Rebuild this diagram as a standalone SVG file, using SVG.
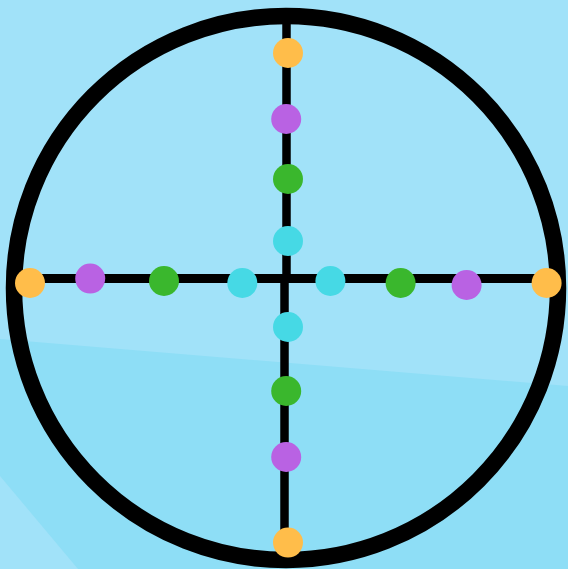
<svg xmlns="http://www.w3.org/2000/svg" width="568" height="569" viewBox="0 0 568 569">
<style>
.bg{fill:#A1E2F9}
.bg2{fill:#8EDEF6}
.ln{stroke:#000;fill:none}
.o{fill:#FFBD4A}
.p{fill:#B962E3}
.g{fill:#3AB72D}
.c{fill:#46D9E5}
</style>
<rect class="bg" x="0" y="0" width="568" height="569"/>
<polygon class="bg2" points="0,339 568,386 568,569 0,569"/>
<polygon class="bg" points="0,476 78,569 0,569"/>
<g id="connectors">
<ellipse id="ring" class="ln" cx="286" cy="288" rx="272" ry="272" stroke-width="16.5"/>
<line class="ln" x1="286.5" y1="22" x2="286.5" y2="283" stroke-width="8.5"/>
<line class="ln" x1="284.5" y1="275" x2="284.5" y2="554" stroke-width="8.5"/>
<line class="ln" x1="14" y1="278.5" x2="558" y2="278.5" stroke-width="9"/>
</g>
<g id="n-top-orange"><circle class="o" cx="288" cy="53" r="15"/></g>
<g id="n-top-purple"><circle class="p" cx="286.2" cy="119" r="15"/></g>
<g id="n-top-green"><circle class="g" cx="288" cy="179" r="15"/></g>
<g id="n-top-cyan"><circle class="c" cx="288" cy="241" r="15"/></g>
<g id="n-left-orange"><circle class="o" cx="30" cy="283" r="15"/></g>
<g id="n-left-purple"><circle class="p" cx="90.2" cy="278.6" r="15"/></g>
<g id="n-left-green"><circle class="g" cx="164" cy="281" r="15"/></g>
<g id="n-left-cyan"><circle class="c" cx="242.3" cy="283" r="15"/></g>
<g id="n-right-cyan"><circle class="c" cx="330.4" cy="281" r="15"/></g>
<g id="n-right-green"><circle class="g" cx="400.6" cy="283" r="15"/></g>
<g id="n-right-purple"><circle class="p" cx="466.6" cy="285" r="15"/></g>
<g id="n-right-orange"><circle class="o" cx="546.6" cy="283" r="15"/></g>
<g id="n-bottom-cyan"><circle class="c" cx="288" cy="327" r="15"/></g>
<g id="n-bottom-green"><circle class="g" cx="286.2" cy="391" r="15"/></g>
<g id="n-bottom-purple"><circle class="p" cx="286.2" cy="457" r="15"/></g>
<g id="n-bottom-orange"><circle class="o" cx="288" cy="542.6" r="15"/></g>
</svg>
